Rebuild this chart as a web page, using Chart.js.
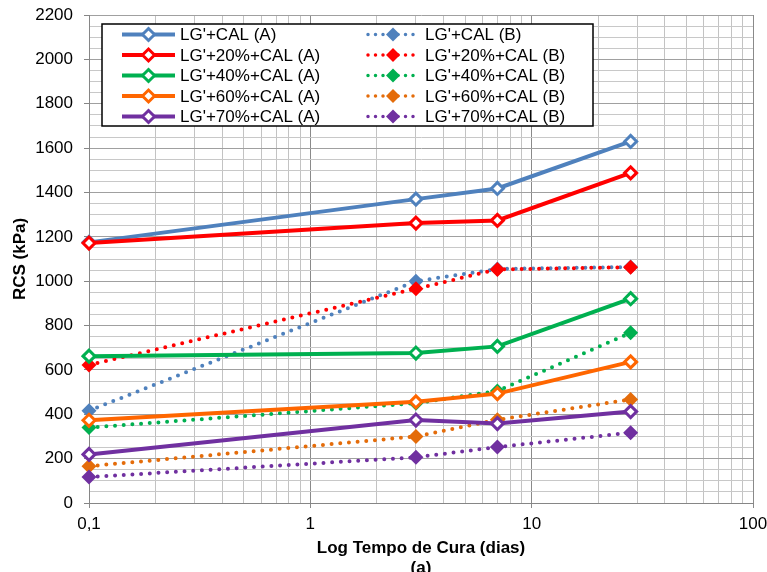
<!DOCTYPE html>
<html>
<head>
<meta charset="utf-8">
<script src="https://cdn.jsdelivr.net/npm/chart.js@4.4.1/dist/chart.umd.min.js"></script>
<style>
html,body{margin:0;padding:0;background:#fff;}
#wrap{width:767px;height:572px;}
</style>
</head>
<body>
<div id="wrap"><canvas id="c" width="767" height="572"></canvas></div>
<script>
// ---- data ----
const days = [0.1, 3, 7, 28];
const labelsA = ["LG'+CAL (A)", "LG'+20%+CAL (A)", "LG'+40%+CAL (A)", "LG'+60%+CAL (A)", "LG'+70%+CAL (A)"];
const labelsB = ["LG'+CAL (B)", "LG'+20%+CAL (B)", "LG'+40%+CAL (B)", "LG'+60%+CAL (B)", "LG'+70%+CAL (B)"];
const cal0A  = [1175, 1370, 1418, 1630];
const cal20A = [1172, 1262, 1274, 1488];
const cal40A = [662, 676, 706, 921];
const cal60A = [373, 456, 493, 636];
const cal70A = [219, 374, 358, 412];
const cal0B  = [416, 1000, 1055, 1064];
const cal20B = [622, 966, 1053, 1063];
const cal40B = [340, 450, 505, 767];
const cal60B = [166, 300, 375, 467];
const cal70B = [117, 206, 252, 317];
const xMajorTicks = [0.1, 1, 10, 100];
const xTickText = ["0,1", "1", "10", "100"];

const seriesA = [cal0A, cal20A, cal40A, cal60A, cal70A];
const seriesB = [cal0B, cal20B, cal40B, cal60B, cal70B];
const colorsA = ['#4f81bd', '#ff0000', '#00b050', '#ff6600', '#7030a0'];
const colorsB = ['#4f81bd', '#ff0000', '#00b050', '#e46c0a', '#7030a0'];

const FONT = "'Liberation Sans', Arial, sans-serif";

const datasets = [];
seriesA.forEach((vals, i) => {
  datasets.push({
    label: labelsA[i],
    data: vals.map((v, j) => ({x: days[j], y: v})),
    borderColor: colorsA[i], backgroundColor: '#ffffff',
    borderWidth: 4, pointStyle: 'rectRot', pointRadius: 6, pointHoverRadius: 6,
    pointBorderWidth: 3, pointBackgroundColor: '#ffffff', pointBorderColor: colorsA[i],
    tension: 0, clip: false, order: 4 - i
  });
});
seriesB.forEach((vals, i) => {
  datasets.push({
    label: labelsB[i],
    data: vals.map((v, j) => ({x: days[j], y: v})),
    borderColor: colorsB[i], backgroundColor: colorsB[i],
    borderWidth: 4, borderDash: [0, 8.7], borderCapStyle: 'round',
    pointStyle: 'rectRot', pointRadius: 7.5, pointHoverRadius: 7.5,
    pointBorderWidth: 0, pointBackgroundColor: colorsB[i], pointBorderColor: colorsB[i],
    tension: 0, clip: false, order: 9 - i
  });
});

function diamond(ctx, x, y, r) {
  ctx.beginPath();
  ctx.moveTo(x - r, y); ctx.lineTo(x, y - r); ctx.lineTo(x + r, y); ctx.lineTo(x, y + r); ctx.closePath();
}

const legendPlugin = {
  id: 'excelLegend',
  afterDraw(chart) {
    const ctx = chart.ctx;
    ctx.save();
    const bx = 102, by = 24, bw = 491, bh = 102;
    ctx.fillStyle = '#fff';
    ctx.fillRect(bx, by, bw, bh);
    ctx.strokeStyle = '#000'; ctx.lineWidth = 1.5;
    ctx.strokeRect(bx, by, bw, bh);
    ctx.font = '17px ' + FONT;
    ctx.textBaseline = 'middle';
    ctx.textAlign = 'left';
    for (let i = 0; i < 5; i++) {
      const y = 34.5 + i * 20.5;
      ctx.setLineDash([]);
      ctx.lineCap = 'butt';
      ctx.strokeStyle = colorsA[i]; ctx.lineWidth = 4;
      ctx.beginPath(); ctx.moveTo(122, y); ctx.lineTo(175, y); ctx.stroke();
      diamond(ctx, 148.5, y, 6);
      ctx.fillStyle = '#fff'; ctx.fill();
      ctx.lineWidth = 3; ctx.strokeStyle = colorsA[i]; ctx.stroke();
      ctx.fillStyle = '#000';
      ctx.fillText(labelsA[i], 180, y + 1);
      ctx.strokeStyle = colorsB[i]; ctx.lineWidth = 3.5;
      ctx.lineCap = 'round'; ctx.setLineDash([0, 7.5]);
      ctx.beginPath(); ctx.moveTo(368, y); ctx.lineTo(418, y); ctx.stroke();
      ctx.setLineDash([]);
      diamond(ctx, 393, y, 7);
      ctx.fillStyle = colorsB[i]; ctx.fill();
      ctx.fillStyle = '#000';
      ctx.fillText(labelsB[i], 425, y + 1);
    }
    ctx.restore();
  }
};

const isMajorX = v => xMajorTicks.some(m => Math.abs(m - v) < 1e-9);

new Chart(document.getElementById('c'), {
  type: 'line',
  data: { datasets },
  plugins: [legendPlugin],
  options: {
    responsive: false,
    animation: false,
    events: [],
    layout: { padding: { top: 15, right: 14, bottom: 0, left: 0 } },
    plugins: { legend: { display: false }, tooltip: { enabled: false } },
    scales: {
      x: {
        type: 'logarithmic', min: 0.1, max: 100,
        afterBuildTicks(scale) {
          const t = [];
          [0.1, 1, 10].forEach(d => {
            for (let k = 1; k <= 9; k++) t.push({ value: Math.round(k * d * 1000) / 1000 });
          });
          t.push({ value: 100 });
          scale.ticks = t;
        },
        afterFit(scale) { scale.height = 69; scale.paddingLeft = 0; scale.paddingRight = 0; },
        ticks: {
          autoSkip: false, maxRotation: 0, minRotation: 0, padding: 6,
          color: '#000', font: { family: FONT, size: 17 },
          callback: (v) => {
            const idx = xMajorTicks.findIndex(m => Math.abs(m - v) < 1e-9);
            return idx >= 0 ? xTickText[idx] : '';
          }
        },
        grid: {
          color: c => isMajorX(c.tick.value) ? '#8a8a8a' : '#c3c3c3',
          tickColor: c => isMajorX(c.tick.value) ? '#8a8a8a' : 'rgba(0,0,0,0)',
          tickLength: 5, lineWidth: 1
        },
        border: { color: '#868686', width: 1 },
        title: {
          display: true, text: ['Log Tempo de Cura (dias)', '(a)'], color: '#000',
          font: { family: FONT, size: 17, weight: 'bold', lineHeight: '20px' },
          padding: { top: 0, bottom: -6 }
        }
      },
      y: {
        type: 'linear', min: 0, max: 2200,
        afterFit(scale) { scale.width = 89; scale.paddingTop = 0; scale.paddingBottom = 0; },
        ticks: {
          stepSize: 50, autoSkip: false, padding: 11,
          color: '#000', font: { family: FONT, size: 17 },
          callback: v => (v % 200 === 0 ? String(v) : '')
        },
        grid: {
          color: c => (c.tick.value % 200 === 0 ? '#a0a0a0' : '#c8c8c8'),
          tickColor: c => (c.tick.value % 200 === 0 ? '#868686' : 'rgba(0,0,0,0)'),
          tickLength: 5, lineWidth: 1
        },
        border: { color: '#868686', width: 1 },
        title: {
          display: true, text: 'RCS (kPa)', color: '#000',
          font: { family: FONT, size: 17, weight: 'bold', lineHeight: '20px' },
          padding: { top: 10, bottom: 0 }
        }
      }
    }
  }
});
</script>
</body>
</html>
